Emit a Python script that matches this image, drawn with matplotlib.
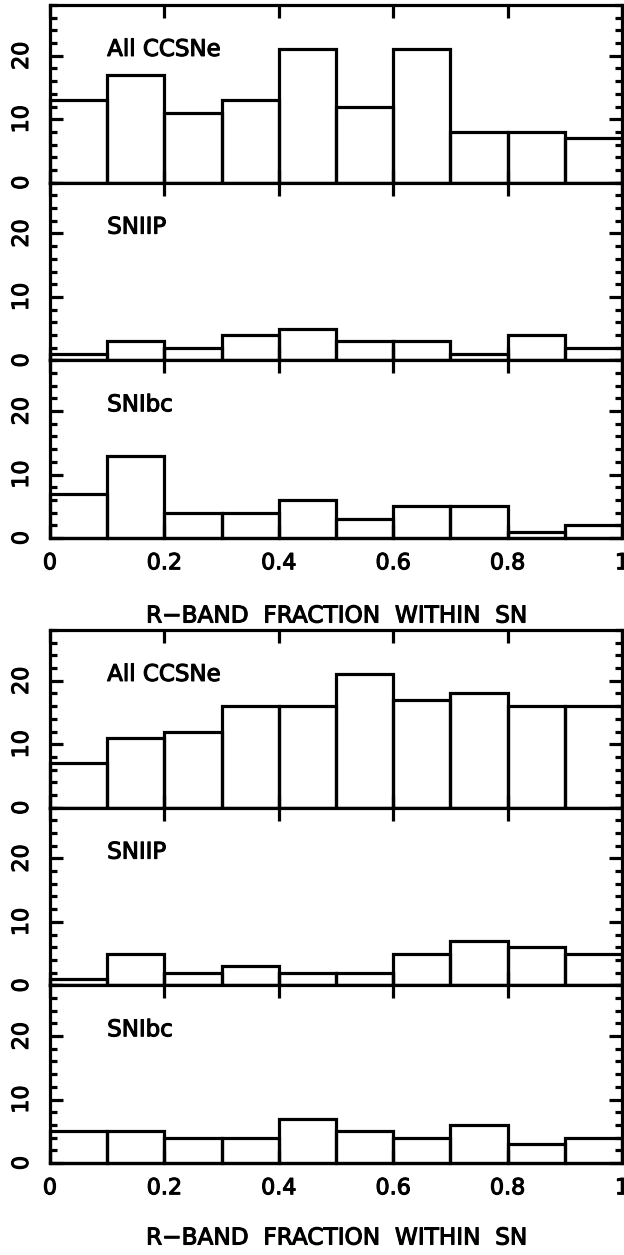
import numpy as np
import matplotlib
matplotlib.use("Agg")
import matplotlib.pyplot as plt
import matplotlib.patheffects as pe
from matplotlib.ticker import MultipleLocator

plt.rcParams['font.family'] = ['DejaVu Sans']

# ── Data ───────────────────────────────────────────────────
bin_edges = np.round(np.arange(0, 1.01, 0.1), 2)
panel_labels = ["All CCSNe", "SNIIP", "SNIbc"]

top_all   = [13, 17, 11, 13, 21, 12, 21, 8, 8, 7]
top_iip   = [1, 3, 2, 4, 5, 3, 3, 1, 4, 2]
top_ibc   = [7, 13, 4, 4, 6, 3, 5, 5, 1, 2]

bot_all   = [7, 11, 12, 16, 16, 21, 17, 18, 16, 16]
bot_iip   = [1, 5, 2, 3, 2, 2, 5, 7, 6, 5]
bot_ibc   = [5, 5, 4, 4, 7, 5, 4, 6, 3, 4]

xlabel = "R\u2212BAND  FRACTION  WITHIN  SN"
xticks = [0, 0.2, 0.4, 0.6, 0.8, 1]
xticklabels = ["0", "0.2", "0.4", "0.6", "0.8", "1"]

# ── Layout (pixels) ────────────────────────────────────────
W, H = 624, 1255
fig = plt.figure(figsize=(W / 100, H / 100), dpi=100, facecolor='white')

LEFT, RIGHT = 50, 622
LW = 2.3
TICKFS = 16
# thicken the glyphs a little, like the stroked plotter font
THICK = [pe.withStroke(linewidth=0.8, foreground='black')]


def px_axes(x0, y_top, w, h):
    return fig.add_axes([x0 / W, 1 - (y_top + h) / H, w / W, h / H])


def draw_group(y_top, y_bottom, series, label_y):
    ph = (y_bottom - y_top) / 3
    axes = []
    for k, vals in enumerate(series):
        ax = px_axes(LEFT, y_top + k * ph, RIGHT - LEFT, ph)
        ax.bar(bin_edges[:-1], vals, width=0.1, align='edge',
               facecolor='none', edgecolor='black', linewidth=LW,
               clip_on=False)
        ax.set_xlim(0, 1)
        ax.set_ylim(0, 28)
        ax.xaxis.set_major_locator(MultipleLocator(0.2))
        ax.yaxis.set_major_locator(MultipleLocator(10))
        ax.yaxis.set_minor_locator(MultipleLocator(2))
        ax.tick_params(which='both', direction='in', top=True, right=True,
                       width=LW, labelsize=TICKFS)
        ax.tick_params(which='major', length=9.5)
        ax.tick_params(which='minor', length=5)
        ax.tick_params(axis='y', pad=13)
        ax.tick_params(axis='x', pad=11)
        for s in ax.spines.values():
            s.set_linewidth(LW)
        ax.text(0.1, 21, panel_labels[k], fontsize=16.5, va='center',
                ha='left', path_effects=THICK)
        if k < 2:
            ax.set_xticklabels([])
        else:
            ax.set_xticks(xticks)
            ax.set_xticklabels(xticklabels)
        for lab in ax.get_yticklabels():
            lab.set_rotation(90)
            lab.set_va('center')
            lab.set_path_effects(THICK)
        for lab in ax.get_xticklabels():
            lab.set_path_effects(THICK)
        axes.append(ax)
    fig.text((LEFT + RIGHT) / 2 / W, 1 - label_y / H, xlabel,
             fontsize=16.7, ha='center', va='center', path_effects=THICK)
    return axes


draw_group(5, 538, [top_all, top_iip, top_ibc], 616)
draw_group(630, 1163, [bot_all, bot_iip, bot_ibc], 1238)

fig.savefig('out.png', dpi=100, facecolor='white')
